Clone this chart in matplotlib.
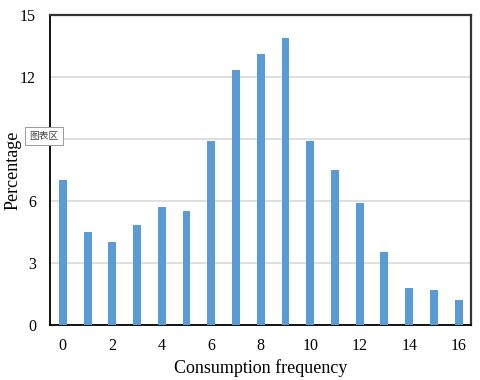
import matplotlib.pyplot as plt

# consumption frequency vs share of respondents (%)
freq = list(range(17))
percent = [7.0, 4.5, 4.0, 4.85, 5.7, 5.5, 8.9, 12.35, 13.1, 13.9, 8.9, 7.5, 5.9, 3.55, 1.8, 1.7, 1.2]
yticks = [0, 3, 6, 9, 12, 15]
xticks = list(range(0, 17, 2))

plt.rcParams['font.family'] = ['Liberation Serif', 'DejaVu Serif']

fig = plt.figure(figsize=(4.8, 3.8), dpi=100)
ax = fig.add_axes([50 / 480, 55 / 380, 421 / 480, 310 / 380])

ax.bar(freq, percent, width=0.32, color='#5B9BD5', zorder=3)
ax.set_xlim(-0.52, 16.5)
ax.set_ylim(0, 15)
ax.set_yticks(yticks)
ax.set_xticks(xticks)
ax.tick_params(length=0, labelsize=11.5)
ax.tick_params(axis='x', pad=9)
ax.tick_params(axis='y', pad=10)
ax.grid(axis='y', color='#d9d9d9', linewidth=1.2, zorder=0)

for side in ['left', 'bottom']:
    ax.spines[side].set_color('black')
    ax.spines[side].set_linewidth(1.3)
for side in ['top', 'right']:
    ax.spines[side].set_color('#333333')
    ax.spines[side].set_linewidth(1.6)

ax.set_xlabel('Consumption frequency', fontsize=13)
ax.set_ylabel('Percentage', fontsize=13)
ax.xaxis.set_label_coords(0.5, -0.11)
ax.yaxis.set_label_coords(-0.068, 0.5)

# excel "chart area" tooltip left on the screenshot
fig.text(44 / 480, 1 - 136 / 380, '图表区', family=['Noto Sans CJK SC', 'DejaVu Sans'],
         fontsize=7, ha='center', va='center', color='#444444', zorder=10,
         bbox=dict(boxstyle='square,pad=0.4', facecolor='white', edgecolor='#999999', linewidth=0.7))

fig.savefig('out.png', dpi=100)
